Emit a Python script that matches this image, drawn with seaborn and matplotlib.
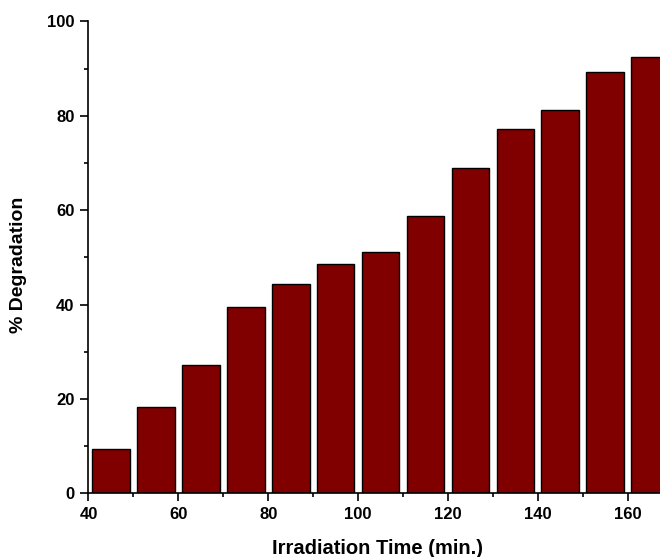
import numpy as np
import pandas as pd
import matplotlib
matplotlib.use("Agg")
import matplotlib.pyplot as plt
import seaborn as sns
from matplotlib.ticker import MultipleLocator

# Irradiation time (min.) and % degradation
time_min = [45, 55, 65, 75, 85, 95, 105, 115, 125, 135, 145, 155, 165]
degradation = [9.4, 18.2, 27.2, 39.5, 44.4, 48.6, 51.2, 58.8, 68.9, 77.1, 81.2, 89.2, 92.5]

df = pd.DataFrame({'Time': time_min, 'Degradation': degradation})

sns.set_style('ticks')
plt.rcParams['font.family'] = ['Liberation Sans', 'DejaVu Sans']
plt.rcParams['font.weight'] = 'bold'
plt.rcParams['text.color'] = 'black'
plt.rcParams['axes.labelcolor'] = 'black'
plt.rcParams['xtick.color'] = 'black'
plt.rcParams['ytick.color'] = 'black'

fig = plt.figure(figsize=(6.6, 5.57), dpi=100)
ax = fig.add_axes([0.134, 0.1144, 0.875, 0.8473])

sns.barplot(data=df, x='Time', y='Degradation', native_scale=True, ax=ax,
            color='#800000', saturation=1, edgecolor='black', linewidth=1,
            width=0.84)

ax.set_xlim(40, 168.5)
ax.set_ylim(0, 100)
ax.xaxis.set_major_locator(MultipleLocator(20))
ax.xaxis.set_minor_locator(MultipleLocator(10))
ax.yaxis.set_major_locator(MultipleLocator(20))
ax.yaxis.set_minor_locator(MultipleLocator(10))
ax.tick_params(which='major', direction='out', length=6, width=1.2,
               labelsize=12, color='black', labelcolor='black', pad=4)
ax.tick_params(which='minor', direction='out', length=3, width=1.2,
               color='black')
for lab in ax.get_xticklabels() + ax.get_yticklabels():
    lab.set_fontweight('bold')

sns.despine(ax=ax)
for side in ['left', 'bottom']:
    ax.spines[side].set_linewidth(1.2)
    ax.spines[side].set_color('black')

ax.set_xlabel('Irradiation Time (min.)', fontsize=14.5, fontweight='bold',
              labelpad=12, color='black')
ax.set_ylabel('% Degradation', fontsize=14, fontweight='bold', color='black')
ax.yaxis.set_label_coords(-0.106, 0.485)

fig.savefig('out.png', dpi=100)
